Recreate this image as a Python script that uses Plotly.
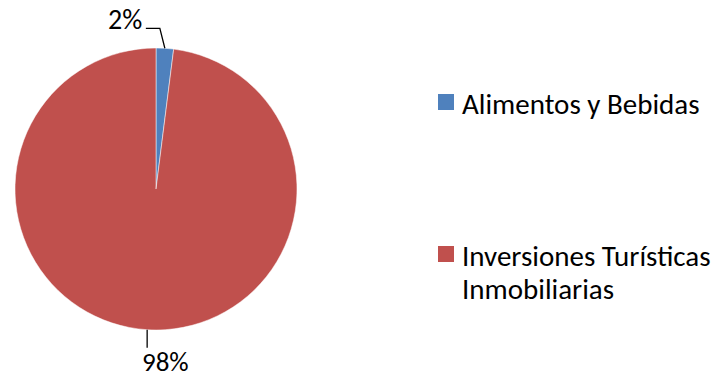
import math
import plotly.graph_objects as go

# Data
categories = ["Alimentos y Bebidas", "Inversiones Turísticas<br>Inmobiliarias"]
shares = [2, 98]
colors = ["#4F81BD", "#C0504D"]

W, H = 720, 379
FONT = "Carlito, Calibri, Lato, sans-serif"

# Pie geometry in pixels
cx, cy, r = 156, 189, 141


def px(x):
    return x / W


def py(y):
    return 1 - y / H


fig = go.Figure(
    go.Pie(
        labels=categories,
        values=shares,
        marker=dict(colors=colors, line=dict(color="white", width=0.5)),
        sort=False,
        direction="clockwise",
        rotation=0,
        textinfo="none",
        hoverinfo="label+percent",
        showlegend=False,
        domain=dict(x=[px(cx - r), px(cx + r)], y=[py(cy + r), py(cy - r)]),
    )
)

shapes = []
annotations = []

# Percentage labels with leader lines, positioned from each slice's mid-angle
total = sum(shares)
start = 0.0
for i, v in enumerate(shares):
    frac = v / total
    mid = (start + frac / 2) * 2 * math.pi
    start += frac
    ex = cx + r * math.sin(mid)
    ey = cy - r * math.cos(mid)
    pct = f"{round(100 * frac)}%"
    if math.cos(mid) > 0:
        # upper half: diagonal up then horizontal to the left
        bx, by = ex - 5, ey - 20
        hx = bx - 14
        shapes.append(dict(type="path", xref="paper", yref="paper",
                           path=f"M {px(ex)} {py(ey)} L {px(bx)} {py(by)} L {px(hx)} {py(by)}",
                           line=dict(color="black", width=1.3)))
        annotations.append(dict(x=px(hx - 2), y=py(by - 9), xref="paper", yref="paper",
                                text=pct, showarrow=False, xanchor="right", yanchor="middle",
                                font=dict(family=FONT, size=28, color="black")))
    else:
        # lower half: straight down then label below, kept inside the bottom edge
        by = ey + 18
        shapes.append(dict(type="line", xref="paper", yref="paper",
                           x0=px(ex), y0=py(ey), x1=px(ex), y1=py(by),
                           line=dict(color="black", width=1.3)))
        annotations.append(dict(x=px(ex + 18), y=0, xref="paper", yref="paper",
                                text=pct, showarrow=False, xanchor="center", yanchor="bottom",
                                borderpad=0,
                                font=dict(family=FONT, size=27, color="black")))

# Legend drawn as swatches and text lines
swatch_y = [102, 254]
first_line_y = [104, 256]
line_gap = 33
for i, name in enumerate(categories):
    yc = swatch_y[i]
    shapes.append(dict(type="rect", xref="paper", yref="paper",
                       x0=px(438), x1=px(454), y0=py(yc - 8), y1=py(yc + 8),
                       fillcolor=colors[i], line=dict(width=0)))
    for j, line in enumerate(name.split("<br>")):
        annotations.append(dict(x=px(460), y=py(first_line_y[i] + j * line_gap),
                                xref="paper", yref="paper",
                                text=line, showarrow=False, xanchor="left", yanchor="middle",
                                align="left",
                                font=dict(family=FONT, size=29, color="black")))

fig.update_layout(
    width=W,
    height=H,
    margin=dict(l=0, r=0, t=0, b=0),
    paper_bgcolor="white",
    plot_bgcolor="white",
    shapes=shapes,
    annotations=annotations,
    showlegend=False,
)

fig.write_html("out.html")
